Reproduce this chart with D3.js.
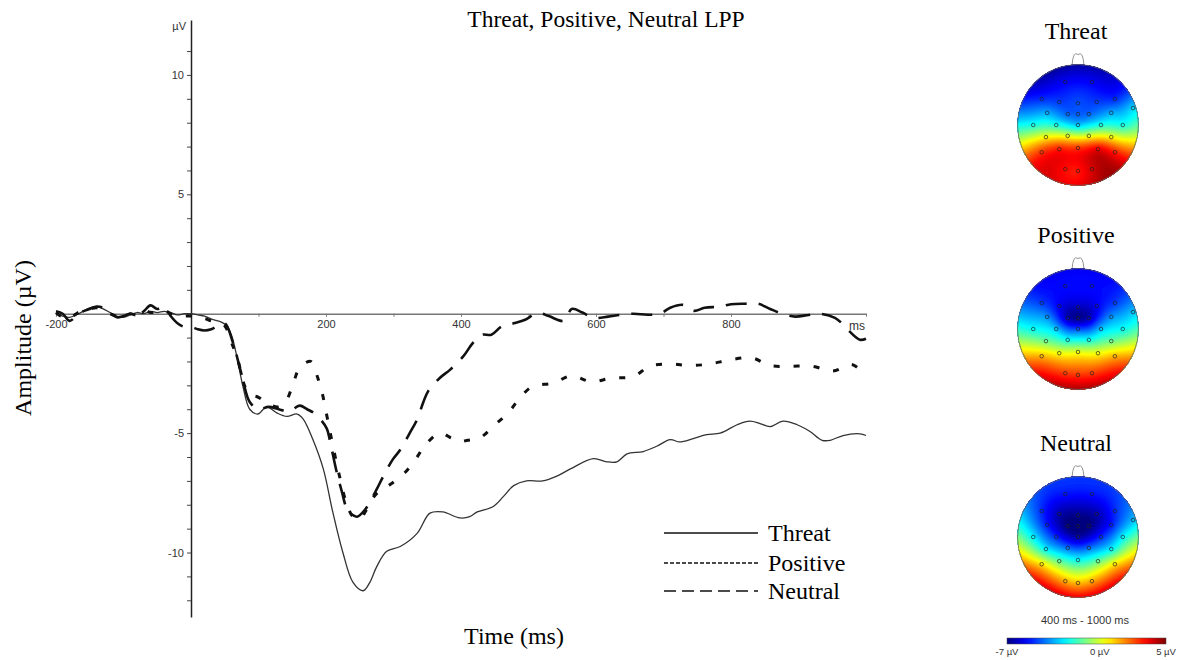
<!DOCTYPE html>
<html>
<head>
<meta charset="utf-8">
<script src="https://cdn.jsdelivr.net/npm/d3@7"></script>
<style>
  body { margin: 0; background: #fff; }
  svg { display: block; }
</style>
</head>
<body>
<svg id="chart" width="1181" height="660"></svg>
<script>
// ERP waveforms, [ms, µV]
const threat = [
  [-200, 0], [-190, -0.1], [-180, -0.15], [-170, -0.05], [-160, 0.1], [-150, 0.25], [-140, 0.3],
  [-130, 0.2], [-120, 0.05], [-110, -0.1], [-100, -0.15], [-90, -0.05], [-80, 0.05], [-70, 0],
  [-60, 0.1], [-50, 0.05], [-40, 0.1], [-30, 0.05], [-20, -0.05], [-10, 0], [0, 0], [10, -0.05],
  [20, -0.1], [33, -0.25], [45, -0.35], [53, -0.5], [60, -0.9], [68, -1.8], [77, -3.05], [87, -4.0],
  [99, -4.2], [112, -3.9], [127, -4.15], [142, -4.3], [157, -4.2], [166, -4.4], [181, -5.3],
  [196, -6.5], [210, -8.3], [225, -10.0], [240, -11.25], [255, -11.6], [265, -11.25], [275, -10.6],
  [290, -9.95], [310, -9.75], [335, -9.2], [354, -8.35], [373, -8.3], [398, -8.55], [413, -8.5],
  [424, -8.3], [448, -8.07], [463, -7.65], [478, -7.2], [497, -7.0], [521, -7.0], [542, -6.8],
  [562, -6.5], [596, -6.07], [616, -6.2], [631, -6.2], [646, -5.87], [670, -5.77], [690, -5.55],
  [710, -5.27], [724, -5.37], [744, -5.23], [764, -5.06], [784, -5.0], [809, -4.65], [828, -4.5],
  [843, -4.6], [858, -4.73], [877, -4.5], [898, -4.65], [917, -4.93], [935, -5.3], [947, -5.3],
  [966, -5.1], [991, -5.03], [1000, -5.1]
];
const positive = [
  [-200, 0.05], [-190, -0.15], [-180, -0.2], [-170, 0], [-160, 0.15], [-150, 0.2], [-140, 0.25],
  [-130, 0.15], [-120, 0], [-110, -0.1], [-100, -0.1], [-90, 0], [-80, -0.05], [-70, 0.15],
  [-60, 0.05], [-50, 0.1], [-40, 0.15], [-30, 0], [-20, -0.1], [-10, -0.1], [0, -0.1], [10, -0.2],
  [20, -0.2], [30, -0.3], [40, -0.35], [50, -0.5], [60, -1.2], [70, -2.0], [80, -3.05], [90, -3.4],
  [100, -3.5], [110, -3.7], [120, -3.85], [130, -3.9], [140, -3.7], [150, -3.05], [160, -2.3],
  [170, -2.05], [178, -2.0], [188, -2.7], [195, -3.4], [200, -4.1], [205, -4.8], [210, -5.5],
  [220, -6.8], [230, -7.9], [240, -8.5], [250, -8.6], [260, -8.2], [270, -7.7], [280, -7.4],
  [295, -7.15], [317, -6.65], [335, -6.0], [347, -5.5], [369, -5.0], [385, -5.2], [396, -5.35],
  [410, -5.3], [428, -5.2], [450, -4.65], [470, -4.15], [486, -3.57], [505, -3.06], [537, -2.9],
  [564, -2.6], [593, -2.85], [622, -2.7], [655, -2.63], [680, -2.2], [710, -2.1], [739, -2.17],
  [769, -2.1], [799, -1.93], [831, -1.85], [858, -2.17], [887, -2.2], [920, -2.2], [951, -2.4],
  [979, -2.13], [1000, -2.6]
];
const neutral = [
  [-200, 0.1], [-190, 0], [-180, -0.3], [-170, -0.1], [-160, 0.1], [-150, 0.2], [-140, 0.3],
  [-130, 0.25], [-120, 0.05], [-110, -0.15], [-100, -0.1], [-90, 0], [-80, -0.1], [-70, 0.1],
  [-60, 0.35], [-50, 0.2], [-40, 0.3], [-30, -0.1], [-20, -0.4], [-10, -0.55], [0, -0.55],
  [10, -0.65], [20, -0.7], [30, -0.65], [40, -0.5], [50, -0.4], [62, -1.2], [75, -2.55], [87, -3.7],
  [100, -4.0], [115, -3.9], [130, -4.0], [145, -4.1], [161, -3.85], [172, -4.0], [184, -4.2],
  [201, -4.8], [206, -5.35], [216, -6.65], [224, -7.5], [230, -8.1], [238, -8.4], [246, -8.5],
  [258, -8.2], [275, -7.36], [285, -6.8], [299, -6.1], [310, -5.7], [324, -5.0], [335, -4.43],
  [344, -3.72], [351, -3.26], [369, -2.68], [384, -2.34], [403, -1.8], [418, -1.21], [431, -0.88],
  [445, -0.88], [460, -0.54], [478, -0.4], [495, -0.25], [514, 0.04], [530, -0.1], [553, -0.3],
  [564, 0.2], [580, 0.05], [596, -0.17], [618, -0.12], [635, -0.05], [655, 0], [677, -0.04],
  [695, 0], [710, 0.25], [729, 0.37], [745, 0.12], [761, 0.25], [784, 0.3], [800, 0.4], [821, 0.42],
  [840, 0.42], [858, 0.2], [876, 0], [895, -0.12], [915, -0.05], [932, 0], [954, -0.17],
  [966, -0.45], [976, -0.75], [991, -1.09], [1000, -1.05]
];

const xTicks = d3.range(-200, 1001, 100);
const xTickLabels = [-200, 200, 400, 600, 800];
const yTicks = d3.range(-12, 12);
const yTickLabels = [10, 5, -5, -10];
const conditions = ["Threat", "Positive", "Neutral"];

// electrode layout (unit head radius, y down) and mean amplitudes 400-1000 ms
const electrodes = [
  [-0.21, -0.71], [0.23, -0.71],
  [-0.60, -0.43], [-0.31, -0.38], [0, -0.36], [0.31, -0.38], [0.61, -0.43],
  [-0.51, -0.20], [-0.17, -0.18], [0, -0.18], [0.18, -0.18], [0.55, -0.20], [0.91, -0.28],
  [-0.74, 0], [-0.36, 0], [0, 0], [0.38, 0], [0.74, 0],
  [-0.53, 0.20], [-0.17, 0.18], [0.18, 0.18], [0.55, 0.20],
  [-0.60, 0.45], [-0.31, 0.40], [0, 0.38], [0.33, 0.40], [0.61, 0.45],
  [-0.21, 0.73], [0, 0.76], [0.23, 0.73]
];
const threatTopo = [
  -5.6, -5.6,
  -5.0, -4.8, -4.6, -4.8, -5.0,
  -3.5, -4.3, -4.4, -4.3, -3.5, -3.0,
  -2.2, -2.2, -3.1, -2.2, -2.2,
  0.5, 0.2, 0.2, 0.5,
  2.9, 3.2, 2.9, 3.7, 3.2,
  3.4, 3.3, 4.0
];
const positiveTopo = [
  -5.4, -5.4,
  -4.8, -5.6, -6.2, -5.6, -4.8,
  -3.8, -6.3, -6.8, -6.3, -3.8, -3.2,
  -2.4, -3.2, -4.6, -3.2, -2.4,
  -1.2, -2.3, -2.3, -1.2,
  1.4, 0.4, 0.2, 0.4, 1.4,
  2.8, 2.9, 2.8
];
const neutralTopo = [
  -5.3, -5.3,
  -5.0, -6.4, -6.8, -6.4, -5.0,
  -5.2, -7.0, -7.2, -7.0, -5.2, -3.3,
  -2.6, -5.0, -6.5, -5.0, -2.6,
  -2.6, -4.2, -4.2, -2.6,
  0.8, -1.3, -2.4, -1.3, 0.8,
  1.5, 1.3, 1.5
];
const colorRange = [-7, 5];
const colorTicks = [-7, 0, 5];

const svg = d3.select("#chart");
const serif = "'Liberation Serif', 'Times New Roman', serif";
const sans = "'Liberation Sans', Arial, sans-serif";

// ---------- ERP panel ----------
const x = d3.scaleLinear().domain([-200, 1000]).range([56, 866]);
const y = d3.scaleLinear().domain([-12.7, 12.3]).range([617, 20]);

svg.append("text")
  .attr("x", 606).attr("y", 27)
  .attr("text-anchor", "middle")
  .style("font-family", serif).style("font-size", "23.5px")
  .text("Threat, Positive, Neutral LPP");

svg.append("text")
  .attr("transform", "translate(31,338) rotate(-90)")
  .attr("text-anchor", "middle")
  .style("font-family", serif).style("font-size", "24px")
  .text("Amplitude (\u00b5V)");

svg.append("text")
  .attr("x", 514).attr("y", 644)
  .attr("text-anchor", "middle")
  .style("font-family", serif).style("font-size", "24px")
  .text("Time (ms)");

const xAxis = svg.append("g")
  .attr("transform", `translate(0,${y(0)})`)
  .call(d3.axisBottom(x).tickValues(xTicks).tickSize(3).tickSizeOuter(0)
    .tickFormat(d => xTickLabels.includes(d) ? d : ""));
xAxis.select(".domain").attr("stroke", "#777").attr("stroke-width", 1.5);
xAxis.selectAll(".tick line").attr("stroke", "#777");
xAxis.selectAll(".tick text").attr("fill", "#333").style("font-family", sans).style("font-size", "11px");

const yAxis = svg.append("g")
  .attr("transform", `translate(${x(0)},0)`)
  .call(d3.axisLeft(y).tickValues(yTicks).tickSize(4).tickSizeOuter(0)
    .tickFormat(d => yTickLabels.includes(d) ? d : ""));
yAxis.select(".domain").attr("stroke", "#222").attr("stroke-width", 1.5);
yAxis.selectAll(".tick line").attr("stroke", "#444");
yAxis.selectAll(".tick text").attr("fill", "#333").style("font-family", sans).style("font-size", "11px");

svg.append("text")
  .attr("x", x(0) - 5).attr("y", 30)
  .attr("text-anchor", "end")
  .style("font-family", sans).style("font-size", "11px").attr("fill", "#333")
  .text("\u00b5V");

svg.append("text")
  .attr("x", 857).attr("y", 330)
  .attr("text-anchor", "middle")
  .style("font-family", sans).style("font-size", "12px").attr("fill", "#333")
  .text("ms");

const line = d3.line()
  .x(d => x(d[0]))
  .y(d => y(d[1]))
  .curve(d3.curveCatmullRom.alpha(0.5));

const styles = [
  { data: threat, width: 1.3, dash: null, color: "#333", legendDash: null, legendWidth: 1.5 },
  { data: positive, width: 3, dash: "6,14", color: "#111", legendDash: "4,2", legendWidth: 1.3 },
  { data: neutral, width: 2.6, dash: "21,12", color: "#111", legendDash: "12,6", legendWidth: 1.5 }
];

svg.append("g")
  .selectAll("path")
  .data(styles)
  .join("path")
  .attr("d", d => line(d.data))
  .attr("fill", "none")
  .attr("stroke", d => d.color)
  .attr("stroke-width", d => d.width)
  .attr("stroke-dasharray", d => d.dash);

const legendY = [533, 563, 591];
const legend = svg.append("g");
legend.selectAll("line")
  .data(styles)
  .join("line")
  .attr("x1", 664).attr("x2", 758)
  .attr("y1", (d, i) => legendY[i]).attr("y2", (d, i) => legendY[i])
  .attr("stroke", "#111")
  .attr("stroke-width", d => d.legendWidth)
  .attr("stroke-dasharray", d => d.legendDash);
legend.selectAll("text")
  .data(conditions)
  .join("text")
  .attr("x", 768)
  .attr("y", (d, i) => legendY[i] + 8)
  .style("font-family", serif).style("font-size", "24px")
  .text(d => d);

// ---------- topographic maps ----------
const jet = d3.scaleLinear()
  .domain([-7, -5.5, -2.5, 0.5, 3.5, 5])
  .range(["#00007f", "#0000ff", "#00ffff", "#ffff00", "#ff0000", "#7f0000"])
  .clamp(true);

// thin plate spline through the electrode values
function thinPlate(pts, vals) {
  const n = pts.length, m = n + 3;
  const phi = r => r > 0 ? r * r * Math.log(r) : 0;
  const A = Array.from({ length: m }, () => new Array(m + 1).fill(0));
  for (let i = 0; i < n; i++) {
    for (let j = 0; j < n; j++) {
      A[i][j] = phi(Math.hypot(pts[i][0] - pts[j][0], pts[i][1] - pts[j][1]));
    }
    A[i][n] = A[n][i] = 1;
    A[i][n + 1] = A[n + 1][i] = pts[i][0];
    A[i][n + 2] = A[n + 2][i] = pts[i][1];
    A[i][m] = vals[i];
  }
  for (let c = 0; c < m; c++) {
    let p = c;
    for (let r = c + 1; r < m; r++) if (Math.abs(A[r][c]) > Math.abs(A[p][c])) p = r;
    [A[c], A[p]] = [A[p], A[c]];
    for (let r = 0; r < m; r++) {
      if (r === c) continue;
      const f = A[r][c] / A[c][c];
      for (let k = c; k <= m; k++) A[r][k] -= f * A[c][k];
    }
  }
  const w = A.map((row, i) => row[m] / row[i]);
  return (px, py) => {
    let s = w[n] + w[n + 1] * px + w[n + 2] * py;
    for (let i = 0; i < n; i++) s += w[i] * phi(Math.hypot(px - pts[i][0], py - pts[i][1]));
    return s;
  };
}

const heads = [
  { name: "Threat", values: threatTopo, cx: 1078, cy: 125, titleY: 39 },
  { name: "Positive", values: positiveTopo, cx: 1078, cy: 329, titleY: 243 },
  { name: "Neutral", values: neutralTopo, cx: 1078, cy: 537, titleY: 451 }
];
const headR = 60.5;
const gridN = 110;
const levels = d3.range(-7.5, 5.5, 0.1);

heads.forEach((h, hi) => {
  const f = thinPlate(electrodes, h.values);
  const grid = new Array(gridN * gridN);
  for (let j = 0; j < gridN; j++) {
    for (let i = 0; i < gridN; i++) {
      const gx = -1 + 2 * (i + 0.5) / gridN;
      const gy = -1 + 2 * (j + 0.5) / gridN;
      grid[j * gridN + i] = Math.max(-7.5, Math.min(5.5, f(gx, gy)));
    }
  }
  const contours = d3.contours().size([gridN, gridN]).thresholds(levels)(grid);

  svg.append("clipPath").attr("id", "head" + hi)
    .append("circle").attr("cx", h.cx).attr("cy", h.cy).attr("r", headR);

  const g = svg.append("g");
  g.append("text")
    .attr("x", h.cx - 2).attr("y", h.titleY)
    .attr("text-anchor", "middle")
    .style("font-family", serif).style("font-size", "24px")
    .text(h.name);

  // nose
  g.append("path")
    .attr("d", `M${h.cx - 6},${h.cy - headR + 1} Q${h.cx - 5},${h.cy - headR - 14} ${h.cx},${h.cy - headR - 10} Q${h.cx + 5},${h.cy - headR - 14} ${h.cx + 6},${h.cy - headR + 1}`)
    .attr("fill", "none").attr("stroke", "#777").attr("stroke-width", 0.8);

  g.append("g")
    .attr("clip-path", `url(#head${hi})`)
    .append("g")
    .attr("transform", `translate(${h.cx - headR},${h.cy - headR}) scale(${2 * headR / gridN})`)
    .selectAll("path")
    .data(contours)
    .join("path")
    .attr("d", d3.geoPath())
    .attr("fill", d => jet(d.value + 0.05));

  g.append("circle")
    .attr("cx", h.cx).attr("cy", h.cy).attr("r", headR)
    .attr("fill", "none").attr("stroke", "#666").attr("stroke-width", 0.8);

  g.selectAll(".el")
    .data(electrodes)
    .join("circle")
    .attr("cx", d => h.cx + d[0] * headR)
    .attr("cy", d => h.cy + d[1] * headR)
    .attr("r", 1.8)
    .attr("fill", "none").attr("stroke", "#222").attr("stroke-opacity", 0.9).attr("stroke-width", 0.75);
});

svg.append("text")
  .attr("x", 1085).attr("y", 624)
  .attr("text-anchor", "middle")
  .style("font-family", sans).style("font-size", "11px").attr("fill", "#333")
  .text("400 ms - 1000 ms");

const cbx = d3.scaleLinear().domain(colorRange).range([1007, 1166]);
const grad = svg.append("defs").append("linearGradient").attr("id", "jetbar");
grad.selectAll("stop")
  .data(d3.range(0, 1.001, 0.05))
  .join("stop")
  .attr("offset", d => d)
  .attr("stop-color", d => jet(colorRange[0] + d * (colorRange[1] - colorRange[0])));
svg.append("rect")
  .attr("x", cbx(-7)).attr("y", 638)
  .attr("width", cbx(5) - cbx(-7)).attr("height", 6)
  .attr("fill", "url(#jetbar)").attr("stroke", "#444").attr("stroke-width", 0.5);
svg.selectAll(".cbl")
  .data(colorTicks)
  .join("text")
  .attr("x", d => cbx(d))
  .attr("y", 655)
  .attr("text-anchor", "middle")
  .style("font-family", sans).style("font-size", "9.5px").attr("fill", "#333")
  .text(d => d + " \u00b5V");
</script>
</body>
</html>
